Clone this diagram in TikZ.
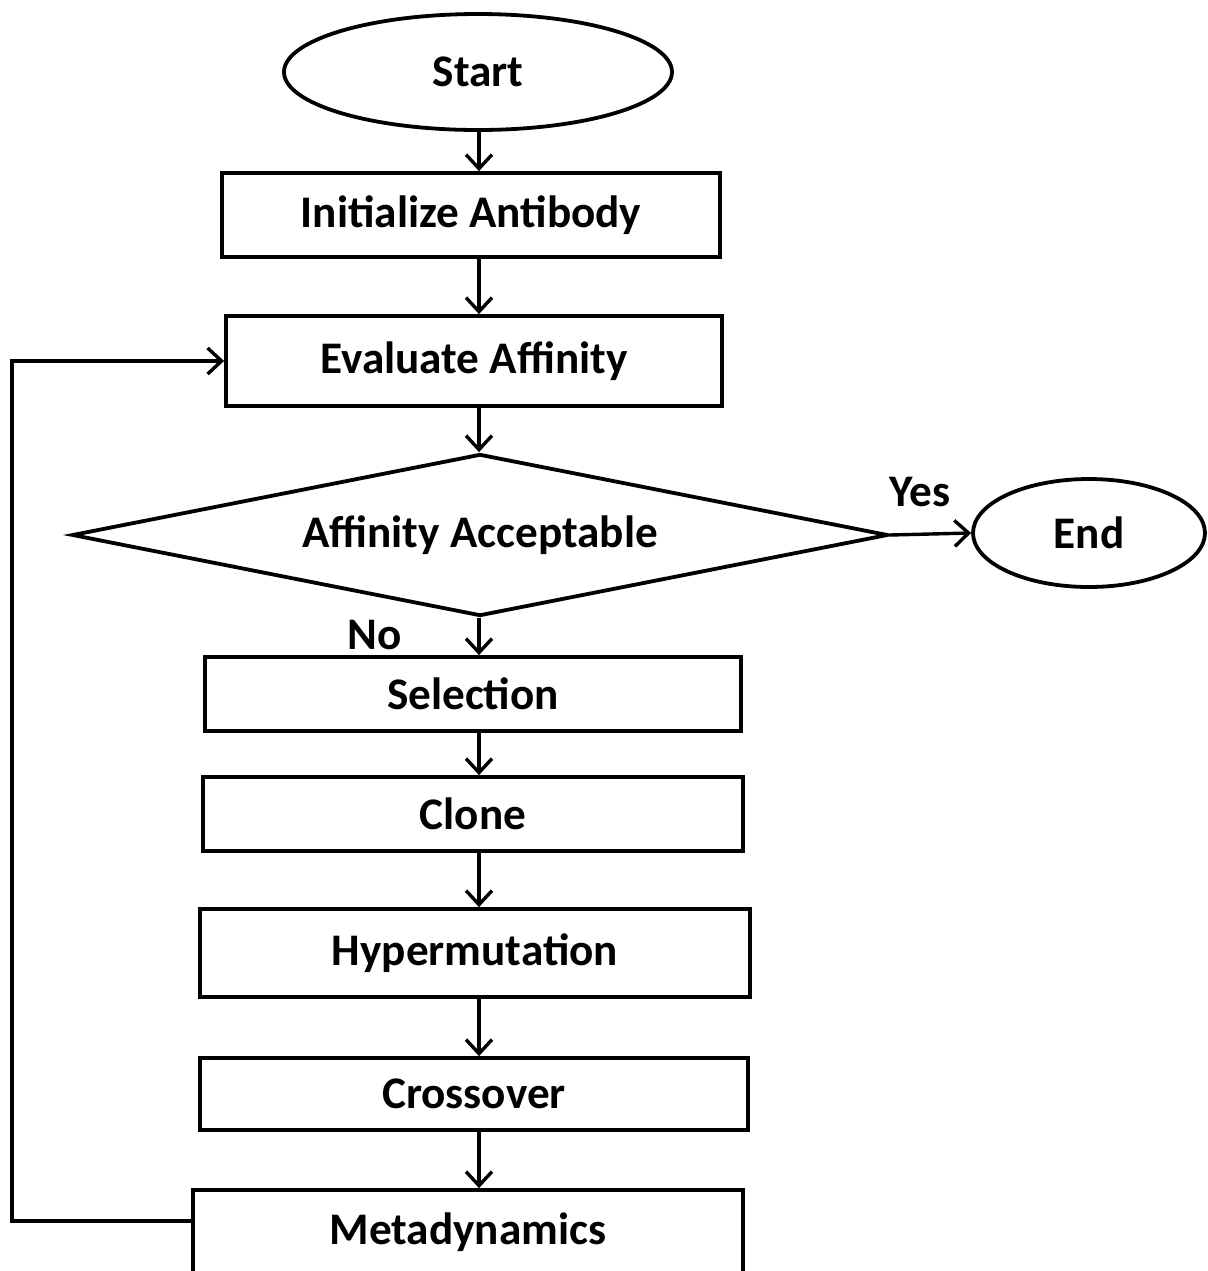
\documentclass[tikz,border=0pt]{standalone}
\usepackage{fontspec}
\setmainfont{Carlito}
\usetikzlibrary{shapes.geometric,arrows.meta}
\begin{document}
\begin{tikzpicture}[x=0.5pt,y=-0.5pt,
  lbl/.style={font=\fontsize{22.6}{27}\bfseries\selectfont},
  box/.style={lbl,draw,line width=1.9pt,rectangle,inner sep=0pt},
  term/.style={lbl,draw,line width=1.9pt,ellipse,inner sep=0pt},
  decision/.style={lbl,draw,line width=1.9pt,diamond,inner sep=0pt,aspect=5},
  arr/.style={line width=1.7pt,-{Straight Barb[length=7pt,width=13pt]}}
]
\useasboundingbox[fill=white] (0,0) rectangle (1207,1271);
\clip (0,0) rectangle (1207,1271);

% vertical axis of the main flow
\coordinate (ax) at (479,0);

% terminals
\node[term,minimum width=194pt,minimum height=58pt] (start) at (478,72) {Start};
\node[term,minimum width=116pt,minimum height=54pt] (finish) at (1089,533) {End};

% process steps
\node[box,minimum width=249pt,minimum height=42pt] (init) at (471,215) {Initialize Antibody};
\node[box,minimum width=248pt,minimum height=45pt] (eval) at (474,361) {Evaluate Affinity};
\node[decision,minimum width=408pt,minimum height=81pt] (accept) at (480,535) {Affinity Acceptable};
\node[box,minimum width=268pt,minimum height=37pt] (sel) at (473,694) {Selection};
\node[box,minimum width=270pt,minimum height=37pt] (clone) at (473,814) {Clone};
\node[box,minimum width=275pt,minimum height=44pt] (hyper) at (475,953) {Hypermutation};
\node[box,minimum width=274pt,minimum height=36pt] (cross) at (474,1094) {Crossover};
\node[box,minimum width=275pt,minimum height=42pt] (meta) at (468,1232) {Metadynamics};

% branch labels
\node[lbl] (yes) at (920,492) {Yes};
\node[lbl] (no) at (375,635) {No};

% main flow
\draw[arr] (start.south -| ax) -- (init.north -| ax);
\draw[arr] (init.south -| ax) -- (eval.north -| ax);
\draw[arr] (eval.south -| ax) -- (accept.north -| ax);
\draw[arr] (accept.south -| ax) -- (sel.north -| ax);
\draw[arr] (sel.south -| ax) -- (clone.north -| ax);
\draw[arr] (clone.south -| ax) -- (hyper.north -| ax);
\draw[arr] (hyper.south -| ax) -- (cross.north -| ax);
\draw[arr] (cross.south -| ax) -- (meta.north -| ax);
\draw[arr] (accept.east) -- (finish.west);

% feedback loop back to evaluation
\coordinate (fb) at (12,1221);
\draw[arr] (meta.west |- fb) -- (fb) |- (eval.west);
\end{tikzpicture}
\end{document}
